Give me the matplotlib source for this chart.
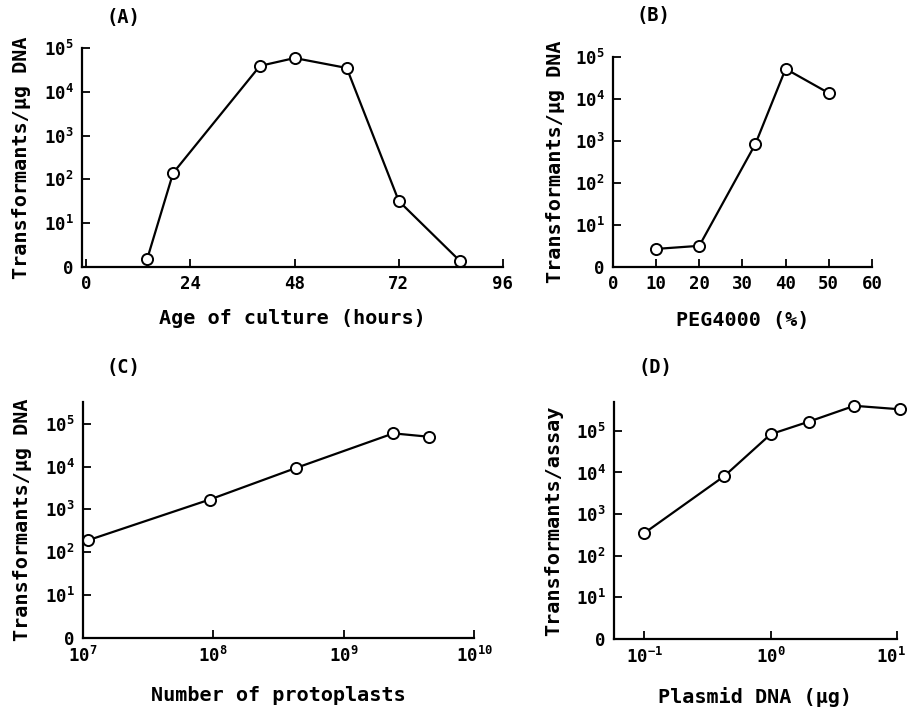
import matplotlib
matplotlib.use('Agg')
import matplotlib.pyplot as plt
import matplotlib.transforms as mtransforms
from matplotlib.ticker import NullLocator

plt.rcParams['font.family'] = 'DejaVu Sans Mono'
plt.rcParams['font.weight'] = 'bold'
plt.rcParams['axes.labelweight'] = 'bold'
plt.rcParams['mathtext.fontset'] = 'custom'
plt.rcParams['mathtext.rm'] = 'DejaVu Sans Mono:bold'
plt.rcParams['mathtext.it'] = 'DejaVu Sans Mono:bold'
plt.rcParams['mathtext.default'] = 'rm'

# (A) age of culture
age_hours = [14, 20, 40, 48, 60, 72, 86]
age_transf = [1.5, 140, 39000, 59000, 35000, 32, 1.4]

# (B) PEG4000 concentration
peg_pct = [10, 20, 33, 40, 50]
peg_transf = [2.7, 3.2, 860, 53000, 14000]

# (C) number of protoplasts
protoplasts = [1.1e7, 9.4e7, 4.3e8, 2.4e9, 4.5e9]
proto_transf = [190, 1700, 9300, 60000, 50000]

# (D) plasmid DNA amount
plasmid_ug = [0.1, 0.43, 1.0, 2.0, 4.6, 10.5]
plasmid_transf = [350, 8200, 83000, 166000, 400000, 330000]

y_ticks = [1, 10, 100, 1e3, 1e4, 1e5]
y_labels = ['0', '$10^{1}$', '$10^{2}$', '$10^{3}$', '$10^{4}$', '$10^{5}$']

fig = plt.figure(figsize=(9.1, 7.09), dpi=100)

axA = fig.add_axes([0.0901, 0.6234, 0.4626, 0.3089])
axB = fig.add_axes([0.6736, 0.6234, 0.2846, 0.2958])
axC = fig.add_axes([0.0909, 0.1006, 0.4303, 0.3329])
axD = fig.add_axes([0.6747, 0.0987, 0.3110, 0.3347])

LBL = 14.5


def style(ax):
    for s in ['top', 'right']:
        ax.spines[s].set_visible(False)
    for s in ['left', 'bottom']:
        ax.spines[s].set_linewidth(1.6)
    ax.tick_params(direction='in', length=6, width=1.3, labelsize=12.5, pad=6)
    ax.set_yscale('log')
    ax.set_yticks(y_ticks)
    ax.set_yticklabels(y_labels)
    ax.yaxis.set_minor_locator(NullLocator())


def draw(ax, x, y):
    ax.plot(x, y, '-', color='black', lw=1.6, marker='o', ms=8,
            mfc='white', mec='black', mew=1.4, clip_on=False)


style(axA)
draw(axA, age_hours, age_transf)
axA.set_xlim(-1, 96)
axA.set_ylim(1, 1e5)
axA.set_xticks([0, 24, 48, 72, 96])
axA.set_xlabel('Age of culture (hours)', fontsize=LBL, labelpad=11)
axA.set_ylabel('Transformants/µg DNA', fontsize=LBL, labelpad=9)

style(axB)
draw(axB, peg_pct, peg_transf)
axB.set_xlim(0, 60)
axB.set_ylim(1, 1e5)
axB.set_xticks([0, 10, 20, 30, 40, 50, 60])
axB.set_xlabel('PEG4000 (%)', fontsize=LBL, labelpad=13)
axB.set_ylabel('Transformants/µg DNA', fontsize=LBL, labelpad=7)

style(axC)
draw(axC, protoplasts, proto_transf)
axC.set_xscale('log')
axC.set_xlim(1e7, 1e10)
axC.set_ylim(1, 10 ** 5.52)
axC.set_xticks([1e7, 1e8, 1e9, 1e10])
axC.set_xticklabels(['$10^{7}$', '$10^{8}$', '$10^{9}$', '$10^{10}$'])
axC.xaxis.set_minor_locator(NullLocator())
axC.set_xlabel('Number of protoplasts', fontsize=LBL, labelpad=14)
axC.set_ylabel('Transformants/µg DNA', fontsize=LBL, labelpad=9)

style(axD)
draw(axD, plasmid_ug, plasmid_transf)
axD.set_xscale('log')
axD.set_xlim(10 ** -1.24, 10)
axD.set_ylim(1, 10 ** 5.7)
axD.set_xticks([0.1, 1, 10])
axD.set_xticklabels(['$10^{-1}$', '$10^{0}$', '$10^{1}$'])
axD.xaxis.set_minor_locator(NullLocator())
axD.set_xlabel('Plasmid DNA (µg)', fontsize=LBL, labelpad=14)
axD.set_ylabel('Transformants/assay', fontsize=LBL, labelpad=9)
# keep the last tick label inside the figure
last = axD.get_xticklabels()[-1]
last.set_transform(last.get_transform() +
                   mtransforms.ScaledTranslation(-6 / 100, 0, fig.dpi_scale_trans))

fig.text(123 / 910, 1 - 18 / 709, '(A)', fontsize=13.5, ha='center', va='center')
fig.text(653 / 910, 1 - 15 / 709, '(B)', fontsize=13.5, ha='center', va='center')
fig.text(123 / 910, 1 - 368 / 709, '(C)', fontsize=13.5, ha='center', va='center')
fig.text(655 / 910, 1 - 368 / 709, '(D)', fontsize=13.5, ha='center', va='center')

fig.savefig('out.png', dpi=100)
